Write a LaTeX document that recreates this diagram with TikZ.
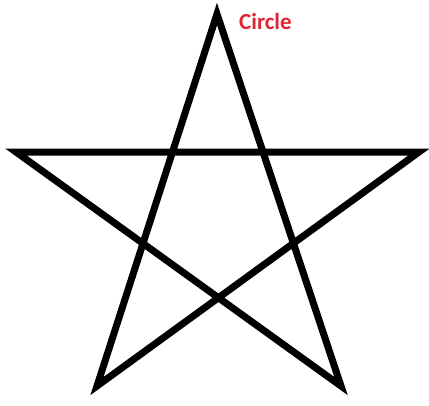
\documentclass[tikz,border=0pt]{standalone}
\usepackage{fontspec}
\setmainfont{Carlito}
\definecolor{lblred}{RGB}{222,38,52}
\begin{document}
\begin{tikzpicture}[x=1pt,y=-1pt,
  starline/.style={line width=7pt,line join=miter,miter limit=20,draw=black},
  lbl/.style={text=lblred,font=\bfseries\fontsize{23}{25}\selectfont,inner sep=0pt,anchor=west}]
\useasboundingbox[fill=white] (0,0) rectangle (429,405);
\coordinate (top) at (217,14);
\coordinate (left) at (16,152);
\coordinate (right) at (419,152);
\coordinate (bl) at (97,386);
\coordinate (br) at (341,386);
\draw[starline] (top) -- (bl) -- (right) -- (left) -- (br) -- cycle;
\node[lbl] (label) at (239,22) {Circle};
\end{tikzpicture}
\end{document}
